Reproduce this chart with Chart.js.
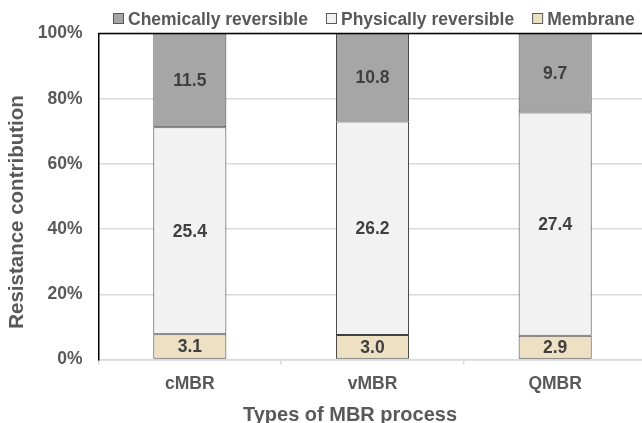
<!DOCTYPE html>
<html>
<head>
<meta charset="utf-8">
<script src="https://cdn.jsdelivr.net/npm/chart.js@4/dist/chart.umd.min.js"></script>
<style>
  html, body { margin: 0; padding: 0; overflow: hidden; background: #fff; }
  #wrap { position: relative; width: 660px; height: 423px; }
</style>
</head>
<body>
<div id="wrap"><canvas id="c" width="660" height="423"></canvas></div>
<script>
// Resistance components per MBR process
const categories = ['cMBR', 'vMBR', 'QMBR'];
const chemicallyReversible = [11.5, 10.8, 9.7];
const physicallyReversible = [25.4, 26.2, 27.4];
const membrane = [3.1, 3.0, 2.9];
const yTickValues = [0, 20, 40, 60, 80, 100];
const seriesNames = ['Chemically reversible', 'Physically reversible', 'Membrane'];
const xTitle = 'Types of MBR process';
const yTitle = 'Resistance contribution';

const FONT = '"Liberation Sans", Arial, sans-serif';
const TEXT = '#595959';
const colors = { chem: '#a6a6a6', phys: '#f2f2f2', memb: '#eee0c2' };

// share of the total resistance, in percent
const totals = categories.map((_, i) => chemicallyReversible[i] + physicallyReversible[i] + membrane[i]);
const asShare = arr => arr.map((v, i) => v / totals[i] * 100);

const barStyle = { borderColor: '#404040', borderWidth: 1, borderSkipped: false,
                   barPercentage: 0.4, categoryPercentage: 1 };

const datasets = [
  { label: seriesNames[2], values: membrane, data: asShare(membrane), backgroundColor: colors.memb, ...barStyle },
  { label: seriesNames[1], values: physicallyReversible, data: asShare(physicallyReversible), backgroundColor: colors.phys, ...barStyle },
  { label: seriesNames[0], values: chemicallyReversible, data: asShare(chemicallyReversible), backgroundColor: colors.chem, ...barStyle }
];

const decor = {
  id: 'decor',
  afterDatasetsDraw(chart) {
    const ctx = chart.ctx;
    ctx.save();
    ctx.font = `bold 17.5px ${FONT}`;
    ctx.fillStyle = '#404040';
    ctx.textAlign = 'center';
    ctx.textBaseline = 'middle';
    chart.data.datasets.forEach((ds, i) => {
      chart.getDatasetMeta(i).data.forEach((bar, j) => {
        const p = bar.getProps(['x', 'y', 'base'], true);
        ctx.fillText(ds.values[j].toFixed(1), p.x, (p.y + p.base) / 2 + 1);
      });
    });
    ctx.restore();
  },
  afterDraw(chart) {
    const ctx = chart.ctx;
    const a = chart.chartArea;
    ctx.save();
    // top frame line
    ctx.strokeStyle = '#000';
    ctx.lineWidth = 1.5;
    ctx.beginPath();
    ctx.moveTo(a.left, a.top);
    ctx.lineTo(chart.width, a.top);
    ctx.stroke();

    // legend
    ctx.font = `bold 17.5px ${FONT}`;
    ctx.textBaseline = 'alphabetic';
    ctx.textAlign = 'left';
    const order = [2, 1, 0];
    let x = 113;
    order.forEach(idx => {
      const ds = chart.data.datasets[idx];
      ctx.fillStyle = ds.backgroundColor;
      ctx.fillRect(x + 0.5, 13.5, 10, 10);
      ctx.strokeStyle = '#595959';
      ctx.lineWidth = 1;
      ctx.strokeRect(x + 0.5, 13.5, 10, 10);
      ctx.fillStyle = TEXT;
      ctx.fillText(ds.label, x + 15, 24.5);
      x += 15 + ctx.measureText(ds.label).width + 18;
    });

    // axis titles
    ctx.font = `bold 20px ${FONT}`;
    ctx.textAlign = 'center';
    ctx.fillText(xTitle, 350, 421);
    ctx.font = `bold 20.5px ${FONT}`;
    ctx.translate(23, 212);
    ctx.rotate(-Math.PI / 2);
    ctx.fillText(yTitle, 0, 0);
    ctx.restore();
  }
};

new Chart(document.getElementById('c'), {
  type: 'bar',
  data: { labels: categories, datasets },
  plugins: [decor],
  options: {
    responsive: false,
    animation: false,
    layout: { padding: { left: 0, top: 33.5, right: 13.5, bottom: 0 } },
    plugins: { legend: { display: false }, tooltip: { enabled: false } },
    scales: {
      x: {
        stacked: true,
        grid: { offset: true, drawOnChartArea: false, tickLength: 5, color: '#d9d9d9', lineWidth: 1.5 },
        border: { color: '#d9d9d9', width: 1.5 },
        ticks: { color: TEXT, font: { family: FONT, size: 17.5, weight: 'bold' }, padding: 9 },
        afterFit(s) { s.height = 63.5; }
      },
      y: {
        stacked: true,
        min: 0,
        max: 100,
        afterBuildTicks(s) { s.ticks = yTickValues.map(v => ({ value: v })); },
        grid: { color: '#d9d9d9', lineWidth: 1.5, drawTicks: false },
        border: { color: '#000', width: 1.5 },
        ticks: { color: TEXT, font: { family: FONT, size: 17.5, weight: 'bold' }, padding: 16,
                 callback: v => v + '%' },
        afterFit(s) { s.width = 98.5; }
      }
    }
  }
});
</script>
</body>
</html>
